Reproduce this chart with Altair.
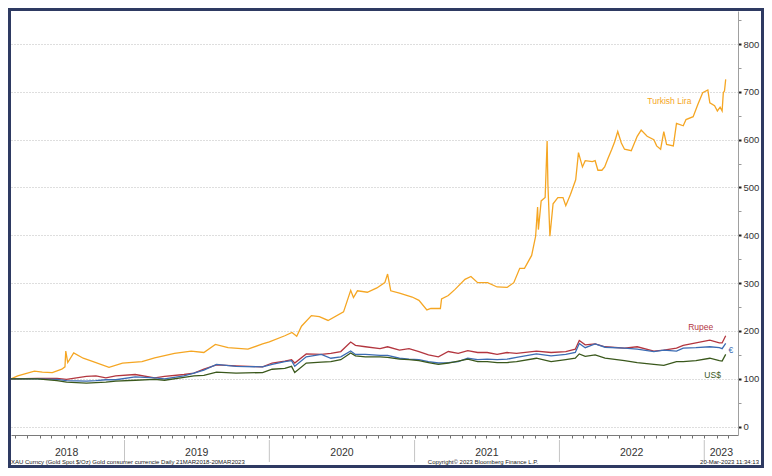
import altair as alt
import pandas as pd

# ---------------- data ----------------
lira_dates = [
    "2018-03-21", "2018-04-07", "2018-05-19", "2018-06-08", "2018-07-03", "2018-07-27",
    "2018-08-04", "2018-08-06", "2018-08-11", "2018-08-26", "2018-09-19", "2018-10-14",
    "2018-11-23", "2018-12-27", "2019-02-14", "2019-03-18", "2019-05-07", "2019-06-18",
    "2019-07-20", "2019-08-18", "2019-09-19", "2019-11-08", "2019-12-15", "2020-01-01",
    "2020-02-09", "2020-02-27", "2020-03-10", "2020-03-22", "2020-04-16", "2020-05-06",
    "2020-05-28", "2020-07-06", "2020-07-24", "2020-07-31", "2020-08-10", "2020-09-04",
    "2020-09-28", "2020-10-18", "2020-10-25", "2020-11-02", "2020-11-24", "2020-12-26",
    "2021-01-12", "2021-02-01", "2021-02-11", "2021-03-07", "2021-03-10", "2021-03-27",
    "2021-04-13", "2021-05-08", "2021-05-23", "2021-06-09", "2021-07-04", "2021-07-28",
    "2021-08-22", "2021-09-08", "2021-09-23", "2021-10-05", "2021-10-23", "2021-11-02",
    "2021-11-07", "2021-11-09", "2021-11-16", "2021-11-26", "2021-12-01", "2021-12-03",
    "2021-12-08", "2021-12-16", "2021-12-28", "2022-01-10", "2022-01-17", "2022-01-29",
    "2022-02-11", "2022-02-18", "2022-02-28", "2022-03-07", "2022-03-25", "2022-04-01",
    "2022-04-08", "2022-04-18", "2022-04-25", "2022-05-03", "2022-05-13", "2022-05-20",
    "2022-05-28", "2022-06-06", "2022-06-14", "2022-07-01", "2022-07-16", "2022-07-26",
    "2022-08-10", "2022-08-27", "2022-09-03", "2022-09-13", "2022-09-21", "2022-09-28",
    "2022-10-15", "2022-10-23", "2022-11-09", "2022-11-16", "2022-12-04", "2022-12-16",
    "2022-12-28", "2023-01-10", "2023-01-15", "2023-01-27", "2023-02-03", "2023-02-10",
    "2023-02-15", "2023-02-18", "2023-02-21", "2023-02-24",
]
lira_values = [
    100, 106, 116, 114, 113, 120,
    125, 158, 134, 154, 143, 136,
    124, 133, 136, 144, 153, 158,
    155, 172, 165, 162, 173, 177,
    190, 197, 189, 210, 232, 230,
    222, 240, 285, 270, 284, 281,
    290, 301, 319, 284, 279, 271,
    264, 244, 247, 247, 267, 274,
    287, 308, 314, 301, 301, 292,
    291, 301, 331, 331, 358, 398,
    459, 412, 472, 479, 597, 506,
    398, 466, 479, 479, 462, 486,
    516, 573, 543, 556, 554, 556,
    536, 536, 543, 560, 580, 595,
    617, 593, 580, 577, 607, 620,
    607, 600, 587, 580, 617, 590,
    587, 634, 629, 642, 648, 674,
    698, 704, 677, 671, 660, 668,
    660, 698, 702, 726,
]

gold_dates = [
    "2018-03-21", "2018-05-27", "2018-07-15", "2018-08-08", "2018-09-27", "2018-10-21",
    "2018-11-15", "2018-12-10", "2019-01-28", "2019-03-18", "2019-04-12", "2019-05-31",
    "2019-06-25", "2019-07-20", "2019-08-21", "2019-10-09", "2019-12-15", "2020-01-08",
    "2020-02-09", "2020-02-26", "2020-03-05", "2020-04-03", "2020-05-11", "2020-06-04",
    "2020-06-29", "2020-07-24", "2020-08-05", "2020-08-30", "2020-10-06", "2020-10-25",
    "2020-11-24", "2020-12-18", "2021-01-12", "2021-02-05", "2021-03-02", "2021-03-27",
    "2021-04-21", "2021-05-15", "2021-06-09", "2021-07-03", "2021-07-28", "2021-08-22",
    "2021-09-15", "2021-11-04", "2021-12-11", "2022-01-17", "2022-02-10", "2022-02-20",
    "2022-03-07", "2022-04-01", "2022-04-26", "2022-06-14", "2022-07-16", "2022-08-27",
    "2022-09-21", "2022-10-23", "2022-11-09", "2022-12-11", "2023-01-15", "2023-02-08",
    "2023-02-15", "2023-02-24",
]
usd_values = [
    100, 100, 96, 93, 91, 92,
    93, 95, 97, 99, 97, 103,
    106, 107, 114, 112, 113, 120,
    122, 126, 113, 133, 135, 136,
    140, 154, 148, 146, 146, 145,
    141, 140, 138, 134, 130, 133,
    137, 141, 136, 136, 134, 134,
    136, 143, 136, 140, 143, 152,
    147, 150, 143, 138, 134, 130,
    128, 136, 136, 138, 143, 138,
    137, 151,
]
eur_values = [
    100, 100, 99, 96, 95, 96,
    98, 98, 104, 102, 100, 106,
    112, 118, 130, 126, 125, 130,
    136, 138, 126, 146, 151, 143,
    146, 158, 151, 151, 149, 149,
    143, 141, 140, 136, 133, 134,
    136, 143, 140, 141, 140, 141,
    145, 152, 148, 151, 155, 174,
    165, 173, 166, 164, 162, 157,
    160, 158, 164, 165, 167, 165,
    163, 174,
]
inr_values = [
    100, 101, 101, 99, 105, 106,
    102, 106, 109, 102, 105, 109,
    112, 120, 129, 127, 125, 133,
    137, 140, 133, 152, 151, 153,
    157, 177, 170, 167, 163, 167,
    160, 163, 157, 150, 146, 157,
    153, 159, 155, 155, 151, 155,
    153, 158, 155, 157, 162, 180,
    171, 173, 167, 164, 167, 158,
    160, 164, 170, 175, 181, 175,
    175, 190,
]

series_names = ["Turkish Lira", "Rupee", "€", "US$"]
series_colors = ["#F5A623", "#B3363F", "#3C6CB3", "#3A581C"]

label_names = ["Turkish Lira", "Rupee", "€", "US$"]
label_dates = ["2022-10-05", "2022-12-23", "2023-03-09", "2023-01-22"]
label_values = [680, 208, 161, 108]
label_colors = ["#F3AA3C", "#8E4858", "#5A76A8", "#66752A"]

year_labels = ["2018", "2019", "2020", "2021", "2022", "2023"]
year_label_dates = ["2018-08-08", "2019-07-02", "2020-07-02", "2021-07-02", "2022-07-02", "2023-02-13"]
year_start_dates = ["2019-01-01", "2020-01-01", "2021-01-01", "2022-01-01", "2023-01-01"]

y_ticks = list(range(0, 851, 50))

footer_left = "XAU Curncy (Gold Spot   $/Oz) Gold consumer currencie  Daily 21MAR2018-20MAR2023"
footer_mid = "Copyright\u00a9 2023 Bloomberg Finance L.P."
footer_right = "20-Mar-2023 11:34:13"

# ---------------- layout / style ----------------
W, H = 727, 424
FONT = "Liberation Sans"
NAVY = "#2E3A62"

lines_df = pd.concat([
    pd.DataFrame({"date": lira_dates, "value": lira_values, "series": "Turkish Lira"}),
    pd.DataFrame({"date": gold_dates, "value": inr_values, "series": "Rupee"}),
    pd.DataFrame({"date": gold_dates, "value": eur_values, "series": "€"}),
    pd.DataFrame({"date": gold_dates, "value": usd_values, "series": "US$"}),
], ignore_index=True)

labels_df = pd.DataFrame({"date": label_dates, "value": label_values, "name": label_names})
years_df = pd.DataFrame({"date": year_label_dates, "year": year_labels})
seps_df = pd.DataFrame({"date": year_start_dates})
one = pd.DataFrame({"k": [0]})

major = "datum.value % 100 === 0 && datum.value <= 800"

x_axis = alt.Axis(
    title=None, labels=False, grid=False,
    tickCount=alt.TimeIntervalStep(interval="month", step=1),
    tickSize=3, tickColor="#6E6E6E", domainColor="#7A7A7A",
)
x_scale = alt.Scale(domain=[alt.DateTime(year=2018, month=3, date=21),
                            alt.DateTime(year=2023, month=3, date=27)])

y_axis = alt.Axis(
    orient="right", title=None, values=y_ticks,
    labelExpr=f"({major}) ? datum.label : ''",
    labelFont=FONT, labelFontSize=9.5, labelColor="#333333", labelPadding=2,
    tickSize=3,
    tickColor={"condition": {"test": major, "value": "#1E1E1E"}, "value": "#9A9A9A"},
    tickWidth={"condition": {"test": major, "value": 2}, "value": 1},
    domainColor="#A0A0A0",
    grid=True, gridDash=[1, 2], gridColor="#BDBDBD",
    gridOpacity={"condition": {"test": major, "value": 1}, "value": 0},
)
y_scale = alt.Scale(domain=[-17.5, 869], nice=False, zero=False)


def xenc():
    return alt.X("date:T", scale=x_scale, axis=x_axis)


def yenc():
    return alt.Y("value:Q", scale=y_scale, axis=y_axis)


lines = alt.Chart(lines_df).mark_line(strokeWidth=1.3, interpolate="linear").encode(
    x=xenc(), y=yenc(),
    color=alt.Color("series:N", scale=alt.Scale(domain=series_names, range=series_colors), legend=None),
    detail="series:N",
)

labels = alt.Chart(labels_df).mark_text(font=FONT, fontSize=8.5, align="center", baseline="middle").encode(
    x=xenc(), y=yenc(), text="name:N",
    color=alt.Color("name:N", scale=alt.Scale(domain=label_names, range=label_colors), legend=None),
)

seps = alt.Chart(seps_df).mark_rule(color="#C4C4C4", strokeWidth=1).encode(
    x=xenc(), y=alt.value(H + 5), y2=alt.value(H + 27),
)

years = alt.Chart(years_df).mark_text(font=FONT, fontSize=10.5, color="#333333", baseline="alphabetic").encode(
    x=xenc(), y=alt.value(H + 21), text="year:N",
)

foot_l = alt.Chart(one).mark_text(text=footer_left, font=FONT, fontSize=6, color="#222222",
                                  align="left", baseline="alphabetic").encode(
    x=alt.value(0), y=alt.value(H + 29))
foot_m = alt.Chart(one).mark_text(text=footer_mid, font=FONT, fontSize=6, color="#222222",
                                  align="center", baseline="alphabetic").encode(
    x=alt.value(472), y=alt.value(H + 29))
foot_r = alt.Chart(one).mark_text(text=footer_right, font=FONT, fontSize=6, color="#222222",
                                  align="right", baseline="alphabetic").encode(
    x=alt.value(W + 21), y=alt.value(H + 29))

frame = alt.Chart(one).mark_rect(fillOpacity=0, stroke=NAVY, strokeWidth=3).encode(
    x=alt.value(-1.5), x2=alt.value(W + 24.5), y=alt.value(-1.5), y2=alt.value(H + 31.5),
)

chart = alt.layer(lines, labels, seps, years, foot_l, foot_m, foot_r, frame).properties(
    width=W, height=H,
    autosize=alt.AutoSizeParams(type="none"),
    padding={"left": 3, "top": 3, "right": 26, "bottom": 33},
    background="white",
).configure_view(strokeWidth=0)

chart.save("out.html", embed_options={"renderer": "svg", "actions": False})
